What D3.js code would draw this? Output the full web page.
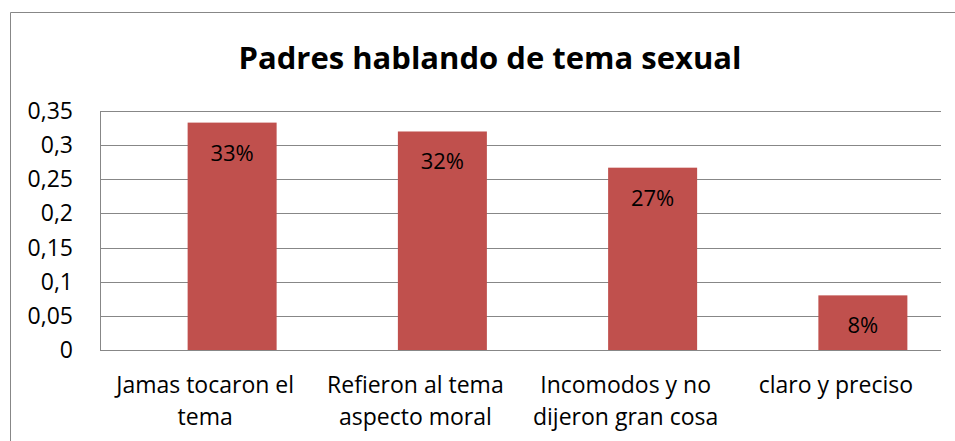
<!DOCTYPE html>
<html><head><meta charset="utf-8">
<script src="https://cdn.jsdelivr.net/npm/d3@7/dist/d3.min.js"></script>
<style>body{margin:0;background:#fff}svg{display:block}text{font-family:"Open Sans",sans-serif}</style>
</head><body><svg id="c" width="955" height="441"></svg>
<script>
const title = "Padres hablando de tema sexual";
const categories = [["Jamas tocaron el","tema"],["Refieron al tema","aspecto moral"],["Incomodos y no","dijeron gran cosa"],["claro y preciso"]];
const values = [0.333, 0.32, 0.267, 0.08];
const dataLabels = ["33%","32%","27%","8%"];
const yTicks = [0,0.05,0.1,0.15,0.2,0.25,0.3,0.35];
const yTickLabels = ["0","0,05","0,1","0,15","0,2","0,25","0,3","0,35"];

const svg = d3.select("#c");
const L=100, R=941, T=111, B=350;
const grey="#878787";
svg.append("path").attr("d","M10.5,460 V12.5 H960").attr("fill","none").attr("stroke",grey).attr("stroke-width",1);

svg.append("text").attr("x",490).attr("y",69).attr("text-anchor","middle")
  .attr("font-size",31).attr("font-weight","bold").attr("fill","#000").text(title);

const y = d3.scaleLinear().domain([0,0.35]).range([B,T]);
const x = d3.scaleBand().domain(d3.range(categories.length)).range([L,R]);
const barW = 89, barShift = 27;

svg.append("g").selectAll("line").data(yTicks).join("line")
  .attr("x1",L).attr("x2",R).attr("y1",d=>Math.round(y(d))+0.5).attr("y2",d=>Math.round(y(d))+0.5)
  .attr("stroke",grey).attr("stroke-width",1);
svg.append("line").attr("x1",L+0.5).attr("x2",L+0.5).attr("y1",T).attr("y2",B+1).attr("stroke",grey);

svg.append("g").selectAll("text").data(yTicks).join("text")
  .attr("x",73).attr("y",d=>y(d)+8).attr("text-anchor","end").attr("font-size",23).attr("fill","#000")
  .text((d,i)=>yTickLabels[i]);

const cx = i => x(i)+x.bandwidth()/2 + barShift;
svg.append("g").selectAll("rect").data(values).join("rect")
  .attr("x",(d,i)=>cx(i)-barW/2).attr("width",barW)
  .attr("y",d=>y(d)).attr("height",d=>B-y(d)).attr("fill","#C0504D");

svg.append("g").selectAll("text").data(values).join("text")
  .attr("x",(d,i)=>cx(i)).attr("y",d=>y(d)+38).attr("text-anchor","middle")
  .attr("font-size",22).attr("fill","#000").text((d,i)=>dataLabels[i]);

const cg = svg.append("g").selectAll("text").data(categories).join("text")
  .attr("text-anchor","middle").attr("font-size",23).attr("fill","#000");
cg.each(function(lines,i){
  const t=d3.select(this);
  lines.forEach((ln,j)=>t.append("tspan").attr("x",x(i)+x.bandwidth()/2).attr("y",393+j*32).text(ln));
});
</script></body></html>
